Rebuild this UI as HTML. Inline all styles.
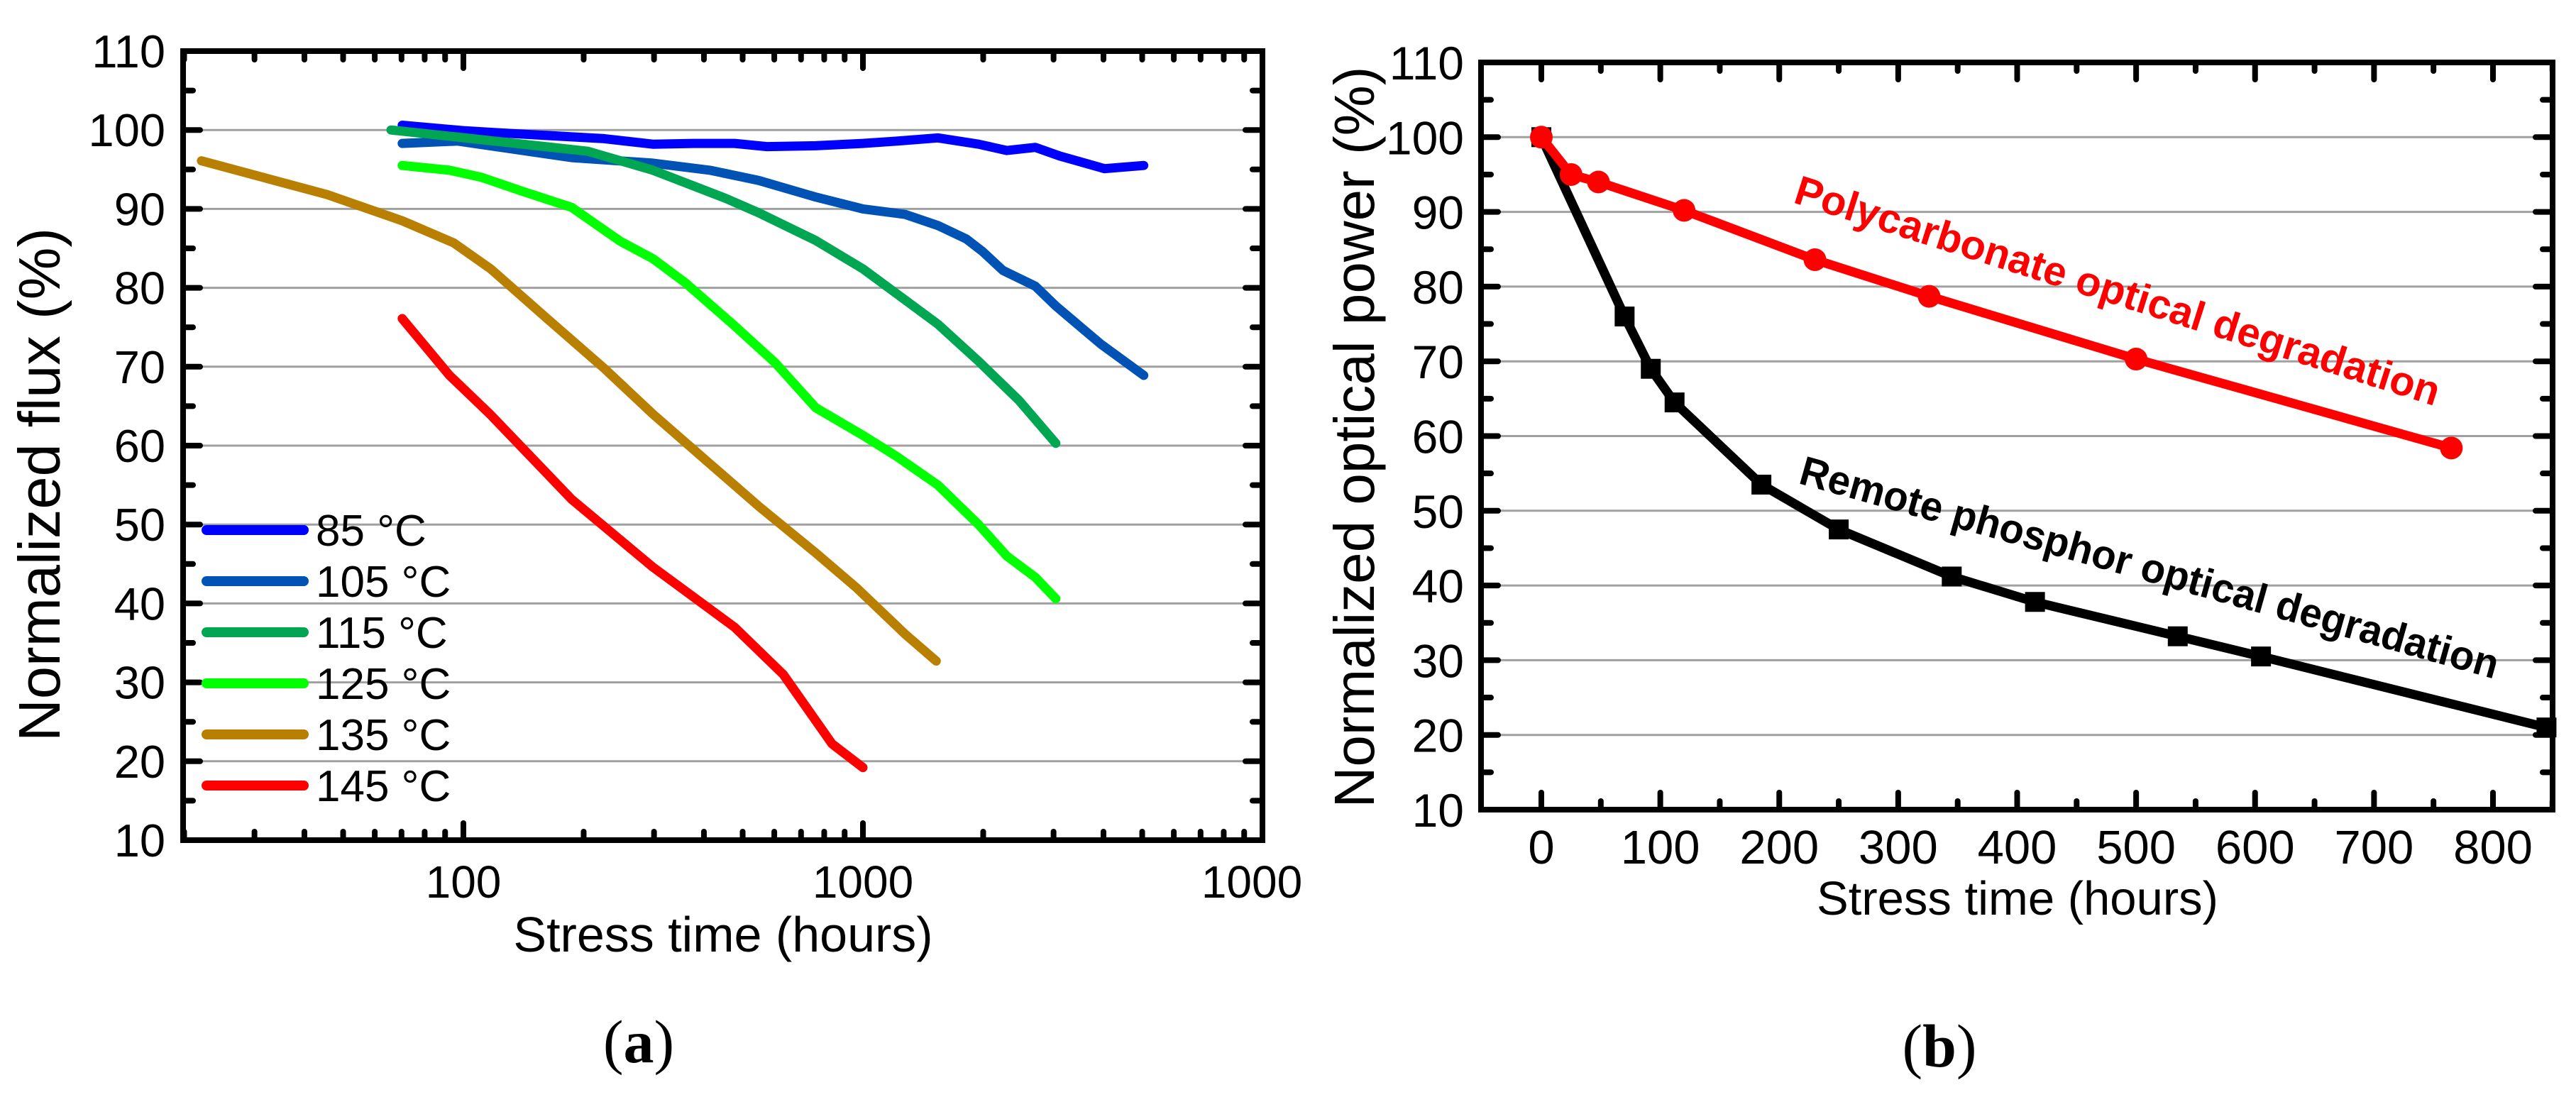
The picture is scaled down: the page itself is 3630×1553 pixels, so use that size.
<!DOCTYPE html>
<html><head><meta charset="utf-8"><style>
html,body{margin:0;padding:0;background:#fff;}
svg{display:block;font-family:"Liberation Sans",Arial,sans-serif;}
</style></head><body>
<svg id="fig" width="3630" height="1553" viewBox="0 0 3630 1553" xmlns="http://www.w3.org/2000/svg">
<g id="chartA"></g>
<g id="chartB"></g>
<text x="900" y="1497" font-family="Liberation Serif,serif" font-size="86" text-anchor="middle">(<tspan font-weight="bold">a</tspan>)</text>
<text x="2733" y="1503" font-family="Liberation Serif,serif" font-size="86" text-anchor="middle">(<tspan font-weight="bold">b</tspan>)</text>
</svg>
<script>
// ---------- Chart A data ----------
const aSeriesNames = ["85 °C","105 °C","115 °C","125 °C","135 °C","145 °C"];
const aColors = ["#0000ff","#0052b4","#00a651","#00ff00","#b97f00","#ff0000"];
const aT85 = [70.3,101,117,225,298,377,477,575,762,1000,1218,1540,1947,2293,2703,3110,4027,5044];
const aV85 = [100.6,99.9,99.7,98.9,98.2,98.3,98.3,97.9,98.0,98.3,98.6,99.0,98.2,97.4,97.8,96.7,95.1,95.5];
const aT105 = [70.3,96.8,186.6,298,414,549,762,1000,1276,1540,1815,1992,2241,2703,3039,3934,5044];
const aV105 = [98.3,98.6,96.5,95.8,94.9,93.6,91.5,90.0,89.3,87.9,86.2,84.6,82.2,80.2,77.7,72.9,68.9];
const aT115 = [65.9,96.8,205,298,455,549,762,1000,1540,1947,2461,3039];
const aV115 = [100.0,99.1,97.3,94.9,91.3,89.5,86.0,82.4,75.4,70.7,65.7,60.3];
const aT125 = [70.3,92.3,111,141,186.6,247,298,360,477,603,762,1000,1218,1540,1947,2293,2703,3039];
const aV125 = [95.5,94.9,94.0,92.2,90.2,85.9,83.7,80.6,75.2,70.5,64.8,61.3,58.6,55.0,50.0,46.0,43.3,40.6];
const aT135 = [22.1,45.7,70.3,94.5,117,162,225,298,414,549,762,963,1276,1526];
const aV135 = [96.1,91.8,88.5,85.7,82.4,76.1,69.8,64.0,57.7,52.3,46.4,42.0,36.1,32.7];
const aT145 = [70.3,92.3,117,186.6,298,477,632,837,1000];
const aV145 = [76.1,68.9,63.9,53.2,44.6,37.0,31.0,22.2,19.2];
const aYTicks = [10,20,30,40,50,60,70,80,90,100,110];
const aXTickVals = [100,1000,10000];
const aXTickLabels = ["100","1000","1000"];
// ---------- Chart B data ----------
const bPolyT = [0,25,48,120,230,326,500,765];
const bPolyV = [100,95,94,90.2,83.6,78.7,70.3,58.4];
const bRemT = [0,70,92,112,185,250,345,415,535,605,845];
const bRemV = [100,76,69,64.5,53.5,47.5,41.2,37.8,33.2,30.5,21];
const bXTicks = [0,100,200,300,400,500,600,700,800];
const bYTicks = [10,20,30,40,50,60,70,80,90,100,110];

const NS = "http://www.w3.org/2000/svg";
function mk(parent, tag, attrs, text){
  const e = document.createElementNS(NS, tag);
  for (const k in attrs) e.setAttribute(k, attrs[k]);
  if (text !== undefined) e.textContent = text;
  parent.appendChild(e);
  return e;
}

// ---------- Chart A ----------
(function(){
  const g = document.getElementById('chartA');
  const L=258, R=1779, T=72, B=1184;
  const xA = t => 653 + 563*Math.log10(t/100);
  const yA = v => B - (v-10)*(B-T)/100;
  // grid
  aYTicks.forEach(v=>{
    if (v===10||v===110) return;
    const ln = mk(g,'line',{x1:L,x2:R,y1:yA(v),y2:yA(v),stroke:'#a0a0a0','stroke-width':3});
    
    
  });
  // series
  const Ts=[aT85,aT105,aT115,aT125,aT135,aT145], Vs=[aV85,aV105,aV115,aV125,aV135,aV145];
  Ts.forEach((ts,i)=>{
    const pts = ts.map((t,j)=>xA(t).toFixed(1)+','+yA(Vs[i][j]).toFixed(1)).join(' ');
    const pl = mk(g,'polyline',{points:pts,fill:'none',stroke:aColors[i],'stroke-width':13,'stroke-linejoin':'round','stroke-linecap':'round'});
    
    
  });
  // frame
  const fr = mk(g,'rect',{x:L,y:T,width:R-L,height:B-T,fill:'none',stroke:'#000','stroke-width':8});
  
  
  // ticks
  const tk = mk(g,'g',{stroke:'#000','stroke-width':8,'stroke-linecap':'round'});
  
  
  for (let v=10; v<=110; v+=5){
    const len = v%10===0?24:14;
    mk(tk,'line',{x1:L,x2:L+len,y1:yA(v),y2:yA(v)});
    mk(tk,'line',{x1:R,x2:R-len,y1:yA(v),y2:yA(v)});
  }
  [20,30,40,50,60,70,80,90,100,200,300,400,500,600,700,800,900,1000,2000,3000,4000,5000,6000,7000,8000,9000].forEach(t=>{
    const major = (t===100||t===1000);
    const len = major?24:12;
    const x=xA(t);
    mk(tk,'line',{x1:x,x2:x,y1:B,y2:B-len});
    mk(tk,'line',{x1:x,x2:x,y1:T,y2:T+len});
  });
  // tick labels
  aYTicks.forEach(v=>{
    const t = mk(g,'text',{x:233,y:yA(v)+23,'font-size':65,'text-anchor':'end'},String(v));
    
    
  });
  aXTickVals.forEach((v,i)=>{
    const x = i===2 ? 1764 : xA(v);
    const t = mk(g,'text',{x:x,y:1265,'font-size':64,'text-anchor':'middle'},aXTickLabels[i]);
    
    
  });
  const xt = mk(g,'text',{x:1019,y:1341,'font-size':70,'text-anchor':'middle'},'Stress time (hours)');
  
  
  const yt = mk(g,'text',{x:0,y:0,'font-size':83,'text-anchor':'middle',transform:'translate(84,683) rotate(-90)'},'Normalized flux (%)');
  
  
  // legend
  aSeriesNames.forEach((n,i)=>{
    const y = 747 + i*72;
    const ln = mk(g,'line',{x1:291,x2:428,y1:y,y2:y,stroke:aColors[i],'stroke-width':14,'stroke-linecap':'round'});
    
    
    const tx = mk(g,'text',{x:445,y:y+22,'font-size':62},n);
    
    
  });
})();

// ---------- Chart B ----------
(function(){
  const g = document.getElementById('chartB');
  const L=2087, R=3597, T=88, B=1141;
  const xB = t => 2172 + t*(3513-2172)/800;
  const yB = v => B - (v-10)*(B-T)/100;
  bYTicks.forEach(v=>{
    if (v===10||v===110) return;
    const ln = mk(g,'line',{x1:L,x2:R,y1:yB(v),y2:yB(v),stroke:'#a0a0a0','stroke-width':3});
    
    
  });
  // remote phosphor (black squares)
  const rp = mk(g,'polyline',{points:bRemT.map((t,j)=>xB(t).toFixed(1)+','+yB(bRemV[j]).toFixed(1)).join(' '),fill:'none',stroke:'#000','stroke-width':13,'stroke-linejoin':'round'});
  
  
  bRemT.forEach((t,j)=>{
    const s = mk(g,'rect',{x:xB(t)-14,y:yB(bRemV[j])-14,width:28,height:28,fill:'#000'});
    
    
  });
  const pc = mk(g,'polyline',{points:bPolyT.map((t,j)=>xB(t).toFixed(1)+','+yB(bPolyV[j]).toFixed(1)).join(' '),fill:'none',stroke:'#ff0000','stroke-width':13,'stroke-linejoin':'round'});
  
  
  bPolyT.forEach((t,j)=>{
    const c = mk(g,'circle',{cx:xB(t),cy:yB(bPolyV[j]),r:16,fill:'#ff0000'});
    
    
  });
  const fr = mk(g,'rect',{x:L,y:T,width:R-L,height:B-T,fill:'none',stroke:'#000','stroke-width':8});
  
  
  const tk = mk(g,'g',{stroke:'#000','stroke-width':8,'stroke-linecap':'round'});
  
  
  for (let v=10; v<=110; v+=5){
    const len = v%10===0?24:14;
    mk(tk,'line',{x1:L,x2:L+len,y1:yB(v),y2:yB(v)});
    mk(tk,'line',{x1:R,x2:R-len,y1:yB(v),y2:yB(v)});
  }
  for (let t=0; t<=850; t+=50){
    const len = t%100===0?24:12;
    mk(tk,'line',{x1:xB(t),x2:xB(t),y1:B,y2:B-len});
    mk(tk,'line',{x1:xB(t),x2:xB(t),y1:T,y2:T+len});
  }
  bYTicks.forEach(v=>{
    const t = mk(g,'text',{x:2063,y:yB(v)+24,'font-size':66,'text-anchor':'end'},String(v));
    
    
  });
  bXTicks.forEach(v=>{
    const t = mk(g,'text',{x:xB(v),y:1217,'font-size':67,'text-anchor':'middle'},String(v));
    
    
  });
  const xt = mk(g,'text',{x:2843,y:1289,'font-size':67,'text-anchor':'middle'},'Stress time (hours)');
  
  
  const yt = mk(g,'text',{x:0,y:0,'font-size':80,'text-anchor':'middle',transform:'translate(1936,616) rotate(-90)'},'Normalized optical power (%)');
  
  
  const a1 = mk(g,'text',{x:0,y:0,'font-size':58,'font-weight':'bold',fill:'#ff0000','text-anchor':'middle','dominant-baseline':'central',textLength:950,lengthAdjust:'spacingAndGlyphs',transform:'translate(2984,410) rotate(17.6)'},'Polycarbonate optical degradation');
  
  
  const a2 = mk(g,'text',{x:0,y:0,'font-size':58,'font-weight':'bold',fill:'#000','text-anchor':'middle','dominant-baseline':'central',textLength:1020,lengthAdjust:'spacingAndGlyphs',transform:'translate(3029,800) rotate(15.7)'},'Remote phosphor optical degradation');
  
  
})();
</script>
</body></html>
